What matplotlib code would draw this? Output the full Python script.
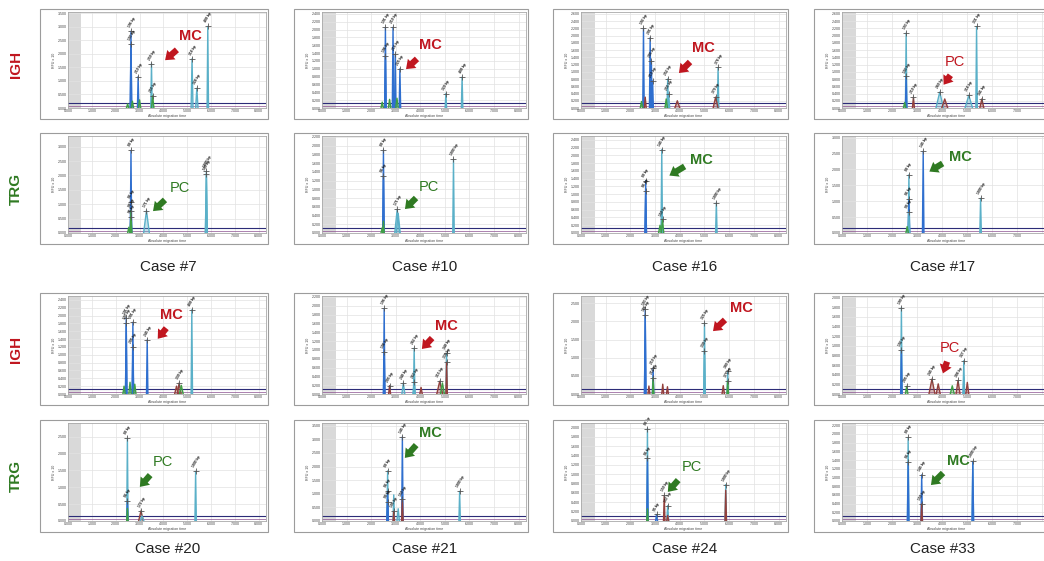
import matplotlib
matplotlib.use('Agg')
import matplotlib.pyplot as plt
from matplotlib.patches import Rectangle, FancyArrowPatch
import numpy as np

plt.rcParams['font.family'] = ['Liberation Sans', 'DejaVu Sans']

# ---------------- data ----------------
cases_top = ['Case #7', 'Case #10', 'Case #16', 'Case #17']
cases_bot = ['Case #20', 'Case #21', 'Case #24', 'Case #33']
row_labels = ['IGH', 'TRG', 'IGH', 'TRG']

# y-axis range / tick step for each panel (row-major order)
panel_ymax = [3.55, 2.45, 2.65, 2.65,
              3.37, 2.22, 2.50, 3.05,
              2.50, 2.22, 2.70, 2.03,
              2.90, 3.60, 2.10, 2.25]
panel_ystep = [0.5, 0.2, 0.2, 0.2,
               0.5, 0.2, 0.2, 0.5,
               0.2, 0.2, 0.5, 0.2,
               0.5, 0.5, 0.2, 0.2]
x_ticks = [0, 1, 2, 3, 4, 5, 6, 7, 8]

# IGH case 7
igh7_x = [2.50, 2.64, 2.64, 2.70, 2.94, 3.00, 3.50, 3.55, 5.20, 5.40, 5.86]
igh7_y = [0.15, 2.84, 2.36, 0.25, 1.16, 0.30, 1.64, 0.45, 1.82, 0.73, 3.02]
igh7_w = [0.05, 0.03, 0.03, 0.05, 0.03, 0.05, 0.03, 0.05, 0.04, 0.05, 0.03]
igh7_c = ['g', 'b', 'b', 'g', 'b', 'g', 't', 'g', 't', 't', 't']
igh7_l = ['', '196 bp', '193 bp', '', '210 bp', '', '259 bp', '255 bp', '318 bp', '328 bp', '400 bp']
# IGH case 10
igh10_x = [2.45, 2.58, 2.58, 2.75, 2.89, 2.98, 3.05, 3.17, 5.04, 5.70]
igh10_y = [0.15, 2.06, 1.33, 0.22, 2.06, 1.37, 0.25, 1.00, 0.37, 0.79]
igh10_w = [0.05, 0.03, 0.03, 0.05, 0.03, 0.03, 0.05, 0.03, 0.03, 0.03]
igh10_c = ['g', 'b', 'b', 'g', 'b', 'b', 'g', 'b', 't', 't']
igh10_l = ['', '191 bp', '196 bp', '', '210 bp', '216 bp', '', '225 bp', '320 bp', '400 bp']
# IGH case 16
igh16_x = [2.45, 2.53, 2.60, 2.80, 2.85, 2.90, 3.45, 3.51, 3.55, 3.90, 5.45, 5.55]
igh16_y = [0.18, 2.20, 0.30, 1.94, 1.30, 0.75, 0.25, 0.80, 0.40, 0.20, 0.30, 1.12]
igh16_w = [0.05, 0.03, 0.04, 0.03, 0.03, 0.03, 0.05, 0.03, 0.04, 0.10, 0.10, 0.03]
igh16_c = ['g', 'b', 'r', 'b', 'b', 'b', 'g', 't', 't', 'r', 'r', 't']
igh16_l = ['', '192 bp', '', '201 bp', '205 bp', '210 bp', '', '252 bp', '255 bp', '', '370 bp', '378 bp']
# IGH case 17
igh17_x = [2.50, 2.56, 2.56, 2.85, 3.90, 4.10, 5.06, 5.37, 5.58]
igh17_y = [0.15, 2.07, 0.87, 0.30, 0.44, 0.25, 0.35, 2.25, 0.25]
igh17_w = [0.05, 0.03, 0.03, 0.04, 0.15, 0.12, 0.15, 0.03, 0.08]
igh17_c = ['g', 't', 'b', 'r', 't', 'r', 't', 't', 'r']
igh17_l = ['', '193 bp', '193 bp', '210 bp', '260 bp', '', '318 bp', '331 bp', '341 bp']
# TRG case 7
trg7_x = [2.55, 2.64, 2.64, 2.64, 2.64, 3.29, 5.80, 5.80]
trg7_y = [0.20, 2.87, 1.08, 0.78, 0.55, 0.78, 2.15, 2.05]
trg7_w = [0.05, 0.03, 0.03, 0.03, 0.03, 0.12, 0.04, 0.04]
trg7_c = ['g', 'b', 'b', 'g', 'g', 't', 't', 't']
trg7_l = ['', '80 bp', '86 bp', '90 bp', '95 bp', '171 bp', '1000 bp', '500 bp']
# TRG case 10
trg10_x = [2.45, 2.50, 2.50, 2.50, 3.06, 3.10, 5.35]
trg10_y = [0.12, 1.90, 1.31, 0.27, 0.54, 0.45, 1.69]
trg10_w = [0.05, 0.03, 0.03, 0.03, 0.10, 0.08, 0.03]
trg10_c = ['g', 'b', 'b', 'g', 't', 't', 't']
trg10_l = ['', '80 bp', '86 bp', '', '171 bp', '', '1000 bp']
# TRG case 16
trg16_x = [2.62, 2.62, 3.20, 3.27, 3.30, 5.48]
trg16_y = [1.35, 1.09, 0.20, 2.15, 0.35, 0.78]
trg16_w = [0.03, 0.03, 0.06, 0.03, 0.05, 0.03]
trg16_c = ['b', 'b', 'g', 't', 'g', 't']
trg16_l = ['80 bp', '86 bp', '', '145 bp', '150 bp', '1000 bp']
# TRG case 17
trg17_x = [2.60, 2.67, 2.67, 2.67, 3.24, 5.53]
trg17_y = [0.20, 1.83, 1.06, 0.66, 2.57, 1.09]
trg17_w = [0.05, 0.03, 0.03, 0.03, 0.03, 0.03]
trg17_c = ['g', 't', 'b', 't', 'b', 't']
trg17_l = ['', '80 bp', '86 bp', '90 bp', '145 bp', '1000 bp']
# IGH case 20
igh20_x = [2.35, 2.44, 2.44, 2.60, 2.72, 2.72, 2.80, 3.32, 4.55, 4.66, 4.75, 5.19]
igh20_y = [0.20, 1.95, 1.80, 0.30, 1.83, 1.19, 0.25, 1.38, 0.20, 0.28, 0.22, 2.15]
igh20_w = [0.05, 0.03, 0.03, 0.05, 0.03, 0.03, 0.05, 0.03, 0.08, 0.08, 0.08, 0.03]
igh20_c = ['g', 'b', 'b', 'g', 'b', 'b', 'g', 'b', 'r', 'r', 'g', 't']
igh20_l = ['', '191 bp', '193 bp', '', '201 bp', '205 bp', '', '245 bp', '', '330 bp', '', '400 bp']
# IGH case 21
igh21_x = [2.53, 2.53, 2.75, 3.31, 3.75, 3.75, 4.03, 4.79, 4.90, 5.07, 5.07]
igh21_y = [1.94, 0.96, 0.19, 0.25, 1.04, 0.27, 0.15, 0.29, 0.25, 0.92, 0.72]
igh21_w = [0.03, 0.03, 0.04, 0.06, 0.03, 0.05, 0.05, 0.12, 0.08, 0.03, 0.03]
igh21_c = ['b', 'b', 'r', 't', 't', 't', 'r', 'r', 'g', 't', 'r']
igh21_l = ['196 bp', '198 bp', '205 bp', '240 bp', '262 bp', '263 bp', '', '315 bp', '', '340 bp', '335 bp']
# IGH case 24
igh24_x = [2.60, 2.60, 2.75, 2.92, 2.92, 3.31, 3.50, 5.00, 5.00, 5.76, 5.94, 5.94]
igh24_y = [2.34, 2.18, 0.22, 0.71, 0.45, 0.27, 0.20, 1.96, 1.19, 0.23, 0.62, 0.36]
igh24_w = [0.03, 0.03, 0.04, 0.03, 0.03, 0.04, 0.04, 0.03, 0.03, 0.05, 0.03, 0.03]
igh24_c = ['b', 'b', 'r', 'b', 'g', 'r', 'r', 't', 't', 'r', 't', 'g']
igh24_l = ['193 bp', '196 bp', '', '210 bp', '212 bp', '', '', '325 bp', '330 bp', '', '380 bp', '375 bp']
# IGH case 33
igh33_x = [2.37, 2.37, 2.58, 3.59, 3.84, 4.40, 4.63, 4.86, 4.86, 5.00]
igh33_y = [1.79, 0.91, 0.16, 0.31, 0.21, 0.17, 0.28, 0.69, 0.35, 0.24]
igh33_w = [0.03, 0.03, 0.05, 0.12, 0.08, 0.08, 0.08, 0.03, 0.03, 0.06]
igh33_c = ['t', 'b', 'g', 'r', 'r', 'g', 'r', 't', 't', 'r']
igh33_l = ['190 bp', '192 bp', '205 bp', '245 bp', '', '', '308 bp', '327 bp', '', '']
# TRG case 20
trg20_x = [2.49, 2.49, 2.49, 3.06, 3.10, 5.35]
trg20_y = [2.45, 0.59, 0.37, 0.30, 0.15, 1.47]
trg20_w = [0.03, 0.03, 0.03, 0.10, 0.08, 0.03]
trg20_c = ['t', 'b', 'g', 'r', 't', 't']
trg20_l = ['80 bp', '86 bp', '', '172 bp', '', '1000 bp']
# TRG case 21
trg21_x = [2.67, 2.67, 2.67, 2.92, 2.92, 3.10, 3.27, 3.27, 5.60]
trg21_y = [1.84, 1.09, 0.71, 0.96, 0.36, 0.45, 3.09, 0.79, 1.09]
trg21_w = [0.03, 0.03, 0.03, 0.03, 0.03, 0.05, 0.03, 0.03, 0.03]
trg21_c = ['t', 'b', 'b', 't', 'r', 't', 'b', 'r', 't']
trg21_l = ['80 bp', '86 bp', '90 bp', '', '105 bp', '', '145 bp', '150 bp', '1000 bp']
# TRG case 24
trg24_x = [2.69, 2.69, 2.69, 3.06, 3.37, 3.51, 3.51, 5.86, 5.86]
trg24_y = [1.98, 1.34, 0.26, 0.14, 0.55, 0.33, 0.12, 0.78, 0.66]
trg24_w = [0.03, 0.03, 0.03, 0.04, 0.03, 0.04, 0.04, 0.03, 0.03]
trg24_c = ['t', 'b', 'g', 'b', 'r', 't', 'r', 't', 'r']
trg24_l = ['80 bp', '86 bp', '', '95 bp', '150 bp', '157 bp', '', '1000 bp', '']
# TRG case 33
trg33_x = [2.64, 2.64, 3.18, 3.18, 5.22, 5.22]
trg33_y = [1.92, 1.35, 1.06, 0.39, 1.37, 1.35]
trg33_w = [0.03, 0.03, 0.03, 0.03, 0.03, 0.03]
trg33_c = ['t', 'b', 'b', 'r', 't', 'b']
trg33_l = ['80 bp', '86 bp', '145 bp', '150 bp', '1000 bp', '']

# clonality call per panel (row-major) and annotation placement (figure px: text, arrow tail, arrow head)
panel_call = ['MC', 'MC', 'MC', 'PC',
              'PC', 'PC', 'MC', 'MC',
              'MC', 'MC', 'MC', 'PC',
              'PC', 'MC', 'PC', 'MC']
call_text_px = [(190, 36), (430, 45), (703, 48), (955, 62),
                (180, 188), (429, 187), (701, 160), (960, 157),
                (171, 315), (446, 326), (741, 308), (950, 348),
                (163, 462), (430, 433), (692, 467), (958, 461)]
call_tail_px = [(179, 48), (419, 57), (692, 60), (952, 73),
                (167, 198), (418, 196), (687, 165), (945, 162),
                (168, 326), (434, 336), (727, 318), (948, 359),
                (152, 473), (418, 443), (680, 478), (945, 471)]
call_head_px = [(163, 62), (404, 71), (677, 75), (942, 87),
                (151, 213), (403, 211), (667, 177), (927, 173),
                (156, 341), (420, 351), (711, 333), (942, 376),
                (138, 489), (403, 460), (666, 494), (929, 487)]

# ---------------- layout ----------------
W, H = 1044, 561
fig = plt.figure(figsize=(W / 100, H / 100), dpi=100)
fig.patch.set_facecolor('white')

row_frames = [(9, 119), (133, 244), (293, 405), (420, 532)]
col_frames = [(40, 268), (294, 528), (553, 788), (814, 1052)]

colmap = {'b': '#2f6fcf', 't': '#5ab0c8', 'g': '#3f9f45', 'r': '#93403c'}
red_c = '#c0161f'
green_c = '#2f7a22'

panels = [
    (igh7_x, igh7_y, igh7_w, igh7_c, igh7_l),
    (igh10_x, igh10_y, igh10_w, igh10_c, igh10_l),
    (igh16_x, igh16_y, igh16_w, igh16_c, igh16_l),
    (igh17_x, igh17_y, igh17_w, igh17_c, igh17_l),
    (trg7_x, trg7_y, trg7_w, trg7_c, trg7_l),
    (trg10_x, trg10_y, trg10_w, trg10_c, trg10_l),
    (trg16_x, trg16_y, trg16_w, trg16_c, trg16_l),
    (trg17_x, trg17_y, trg17_w, trg17_c, trg17_l),
    (igh20_x, igh20_y, igh20_w, igh20_c, igh20_l),
    (igh21_x, igh21_y, igh21_w, igh21_c, igh21_l),
    (igh24_x, igh24_y, igh24_w, igh24_c, igh24_l),
    (igh33_x, igh33_y, igh33_w, igh33_c, igh33_l),
    (trg20_x, trg20_y, trg20_w, trg20_c, trg20_l),
    (trg21_x, trg21_y, trg21_w, trg21_c, trg21_l),
    (trg24_x, trg24_y, trg24_w, trg24_c, trg24_l),
    (trg33_x, trg33_y, trg33_w, trg33_c, trg33_l),
]


def fx(px):
    return px / W


def fy(py):
    return 1 - py / H


for i, (xs, ys, ws, cs, ls) in enumerate(panels):
    r, c = divmod(i, 4)
    ft, fb = row_frames[r]
    fl, fr = col_frames[c]
    # outer frame
    fig.patches.append(Rectangle((fx(fl), fy(fb)), fx(fr - fl), (fb - ft) / H,
                                 transform=fig.transFigure, fill=False,
                                 edgecolor='#9c9c9c', lw=0.8))
    al, ar, at, ab = fl + 28, fr - 2, ft + 3, fb - 11
    ax = fig.add_axes([fx(al), fy(ab), fx(ar - al), (ab - at) / H])
    ymax = panel_ymax[i]
    step = panel_ystep[i]
    ax.set_xlim(0, 8.3)
    ax.set_ylim(0, ymax)
    ax.axvspan(0, 0.55, color='#d9d9d9', zorder=0, lw=0)
    yt = np.round(np.arange(0, ymax + 1e-6, step), 3)
    ax.set_yticks(yt)
    ax.set_yticklabels([f'{v:.3f}' for v in yt])
    ax.set_xticks(x_ticks)
    # the right-most column runs off the picture edge: its last label is hidden there
    xl = [f'{v:.3f}' for v in x_ticks]
    if c == 3:
        xl[-1] = ''
    ax.set_xticklabels(xl)
    ax.tick_params(length=0, pad=1, labelsize=2.6, labelcolor='#444444')
    ax.grid(True, color='#e2e2e2', lw=0.5, zorder=0)
    for s in ax.spines.values():
        s.set_color('#a8a8a8')
        s.set_linewidth(0.6)
    ax.set_ylabel('RFU x 10', fontsize=2.6, labelpad=1, color='#444444')
    ax.set_xlabel('Absolute migration time', fontsize=2.6, labelpad=0.5, color='#444444')
    # baselines
    ax.axhline(0.05 * ymax, color='#2c2c78', lw=0.8, zorder=2)
    ax.axhline(0.018 * ymax, color='#8a4f8f', lw=0.5, zorder=2)
    # peaks
    order = np.argsort(ys)[::-1]
    for k in order:
        x, y, w, cc = xs[k], ys[k], ws[k], colmap[cs[k]]
        ax.fill([x - w, x, x + w], [0, y, 0], color=cc, alpha=0.35, lw=0, zorder=3)
        ax.plot([x - w, x, x + w], [0, y, 0], color=cc, lw=1.0, zorder=4)
    for k in range(len(xs)):
        if ls[k]:
            ax.plot(xs[k], ys[k], marker='+', ms=4, mew=0.6, color='#555555', zorder=5)
            ax.text(xs[k] - 0.02, ys[k] + 0.03 * ymax, ls[k], rotation=60, fontsize=2.4,
                    fontweight='bold', ha='left', va='bottom', rotation_mode='anchor',
                    color='#111111', zorder=6, clip_on=False)

    # MC / PC call annotation
    is_igh = row_labels[r] == 'IGH'
    col_a = red_c if is_igh else green_c
    call = panel_call[i]
    tx, ty = call_text_px[i]
    fig.text(fx(tx), fy(ty), call, fontsize=10.5, color=col_a,
             fontweight='bold' if call == 'MC' else 'normal', ha='center', va='center')
    hx, hy = call_head_px[i]
    sx, sy = call_tail_px[i]
    fig.add_artist(FancyArrowPatch(
        (fx(sx), fy(sy)), (fx(hx), fy(hy)), transform=fig.transFigure,
        arrowstyle='simple,head_length=0.6,head_width=0.9,tail_width=0.45',
        mutation_scale=10, color=col_a, lw=0))

# row labels
for r, lab in enumerate(row_labels):
    ft, fb = row_frames[r]
    fig.text(fx(16), fy((ft + fb) / 2), lab, rotation=90, fontsize=11, fontweight='bold',
             color=red_c if lab == 'IGH' else green_c, ha='center', va='center')

# case labels
for c, lab in enumerate(cases_top):
    fl, fr = col_frames[c]
    cx = (fl + 28 + min(fr, 1044)) / 2
    fig.text(fx(cx), fy(267), lab, fontsize=11, ha='center', va='center', color='#222222')
for c, lab in enumerate(cases_bot):
    fl, fr = col_frames[c]
    cx = (fl + 28 + min(fr, 1044)) / 2
    fig.text(fx(cx), fy(549), lab, fontsize=11, ha='center', va='center', color='#222222')

fig.savefig('out.png', dpi=100)
